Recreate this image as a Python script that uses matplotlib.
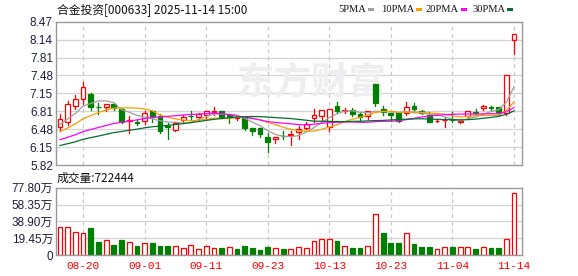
import matplotlib
matplotlib.use('Agg')
import matplotlib.pyplot as plt
import numpy as np
from matplotlib.patches import Rectangle

# ---------------- data ----------------
dates = ['08-15', '08-18', '08-19', '08-20', '08-21', '08-22', '08-25', '08-26', '08-27', '08-28',
         '08-29', '09-01', '09-02', '09-03', '09-04', '09-05', '09-08', '09-09', '09-10', '09-11',
         '09-12', '09-15', '09-16', '09-17', '09-18', '09-19', '09-22', '09-23', '09-24', '09-25',
         '09-26', '09-29', '09-30', '10-09', '10-10', '10-13', '10-14', '10-15', '10-16', '10-17',
         '10-20', '10-21', '10-22', '10-23', '10-24', '10-27', '10-28', '10-29', '10-30', '10-31',
         '11-03', '11-04', '11-05', '11-06', '11-07', '11-10', '11-11', '11-12', '11-13', '11-14']

opens = [6.53, 6.62, 6.91, 7.04, 7.13, 6.90, 6.90, 6.94, 6.85, 6.64,
         6.61, 6.63, 6.81, 6.73, 6.54, 6.47, 6.65, 6.725, 6.70, 6.75,
         6.80, 6.82, 6.75, 6.69, 6.68, 6.51, 6.51, 6.34, 6.30, 6.36,
         6.37, 6.43, 6.51, 6.68, 6.73, 6.52, 6.91, 6.81, 6.84, 6.76,
         6.73, 7.32, 6.85, 6.79, 6.79, 6.79, 6.91, 6.81, 6.75, 6.625,
         6.645, 6.655, 6.615, 6.73, 6.80, 6.87, 6.885, 6.90, 6.78, 8.13]
highs = [6.76, 7.01, 7.12, 7.36, 7.16, 6.97, 6.94, 6.96, 6.87, 6.73,
         6.65, 6.82, 6.81, 6.76, 6.59, 6.62, 6.75, 6.82, 6.79, 6.82,
         6.89, 6.82, 6.76, 6.73, 6.68, 6.51, 6.51, 6.41, 6.34, 6.44,
         6.44, 6.55, 6.61, 6.86, 6.84, 6.85, 6.99, 6.87, 6.87, 6.80,
         6.81, 7.32, 6.91, 6.79, 6.79, 6.99, 6.97, 6.84, 6.80, 6.67,
         6.70, 6.80, 6.67, 6.82, 6.86, 6.93, 6.92, 6.90, 7.49, 8.24]
lows = [6.45, 6.56, 6.85, 6.95, 6.84, 6.76, 6.81, 6.84, 6.59, 6.41,
        6.56, 6.58, 6.62, 6.41, 6.31, 6.44, 6.60, 6.65, 6.65, 6.65,
        6.75, 6.68, 6.60, 6.65, 6.47, 6.38, 6.33, 6.06, 6.22, 6.30,
        6.19, 6.31, 6.49, 6.62, 6.63, 6.44, 6.79, 6.78, 6.73, 6.65,
        6.67, 6.91, 6.75, 6.64, 6.62, 6.75, 6.81, 6.76, 6.62, 6.61,
        6.53, 6.61, 6.59, 6.67, 6.75, 6.84, 6.84, 6.75, 6.75, 7.87]
closes = [6.665, 6.94, 7.035, 7.26, 6.90, 6.89, 6.94, 6.87, 6.62, 6.655,
          6.60, 6.79, 6.70, 6.455, 6.52, 6.59, 6.71, 6.72, 6.76, 6.81,
          6.81, 6.71, 6.70, 6.70, 6.51, 6.44, 6.39, 6.24, 6.34, 6.355,
          6.39, 6.49, 6.57, 6.745, 6.84, 6.85, 6.82, 6.84, 6.76, 6.70,
          6.81, 6.96, 6.80, 6.745, 6.64, 6.89, 6.85, 6.79, 6.62, 6.635,
          6.655, 6.645, 6.625, 6.82, 6.79, 6.92, 6.88, 6.806, 7.49, 8.24]
# closes before the visible window (feed the moving averages)
prior_closes = [5.92, 5.95, 5.90, 5.98, 6.02, 5.96, 5.93, 6.00, 5.97, 6.01,
                6.05, 6.10, 6.08, 6.15, 6.12, 6.18, 6.14, 6.20, 6.16, 6.22,
                6.25, 6.28, 6.32, 6.30, 6.35, 6.45, 6.52, 6.60, 6.63]
volumes = [32.3, 32.3, 26.2, 25.0, 31.6, 14.6, 16.9, 11.6, 17.3, 14.6,
           10.4, 13.5, 13.9, 10.4, 10.4, 10.0, 7.7, 11.2, 6.9, 10.0,
           8.1, 8.1, 9.2, 6.9, 10.4, 8.1, 5.8, 9.2, 8.1, 6.9,
           6.9, 8.9, 7.7, 15.8, 18.1, 18.1, 16.2, 10.4, 8.1, 8.1,
           10.4, 47.0, 25.4, 13.9, 13.9, 25.0, 12.7, 9.2, 9.2, 6.5,
           8.9, 9.2, 8.9, 8.9, 6.9, 8.9, 8.1, 8.1, 18.1, 72.24]  # 万
vol_up = [1, 1, 1, 1, 0, 0, 1, 0, 0, 1,
          0, 1, 0, 0, 0, 1, 1, 1, 1, 1,
          1, 0, 1, 0, 0, 0, 0, 0, 1, 0,
          1, 1, 1, 1, 1, 1, 0, 1, 0, 0,
          1, 1, 0, 0, 0, 1, 0, 0, 0, 1,
          1, 0, 1, 1, 0, 1, 0, 0, 1, 1]
price_ticks = [5.82, 8.47]
price_tick_labels = ['5.82', '6.15', '6.48', '6.81', '7.15', '7.48', '7.81', '8.14', '8.47']
vol_max = 77.80
vol_tick_labels = ['0', '19.45万', '38.90万', '58.35万', '77.80万']
date_tick_idx = [3, 11, 19, 27, 35, 43, 51, 59]
title = '合金投资[000633] 2025-11-14 15:00'
vol_title = '成交量:722444'
ma_periods = [5, 10, 20, 30]
ma_names = ['5PMA', '10PMA', '20PMA', '30PMA']

# ---------------- style ----------------
RED = '#ff0000'
GREEN = '#008000'
ma_colors = ['#a0a0a0', '#f5a000', '#ff00ff', '#006f30']
GRID = '#d4d4d4'
SPINE = '#999999'
LABEL = '#1e1e3c'

W, H = 578, 276
fig = plt.figure(figsize=(W / 100, H / 100), dpi=100)
fig.patch.set_facecolor('white')

def fx(px):
    return px / W

def fy(py):
    return 1 - py / H

L, R = 55.7, 522.3
ax = fig.add_axes([fx(L), fy(165.0), fx(R - L), fy(21.7) - fy(165.0)])
axv = fig.add_axes([fx(L), fy(255.0), fx(R - L), fy(187.7) - fy(255.0)])

N = len(closes)
xs = np.arange(N)
xlim = (-0.56, N + 0.08)

# ---------------- price panel ----------------
pt = np.linspace(price_ticks[0], price_ticks[1], len(price_tick_labels))
ax.set_xlim(*xlim)
ax.set_ylim(pt[0], pt[-1])
for y in pt[1:-1]:
    ax.axhline(y, color=GRID, lw=0.9, zorder=0)
for i in date_tick_idx:
    ax.axvline(i, color='#c8c8c8', lw=0.9, ls=(0, (3, 3)), zorder=0)
    axv.axvline(i, color='#c8c8c8', lw=0.9, ls=(0, (3, 3)), zorder=0)

ax.text(0.55, 0.575, '东方财富', transform=ax.transAxes, ha='center', va='center',
        fontsize=27, color='#eeeef0', fontweight='bold', family=['Noto Sans CJK SC'], zorder=0.5)

bw = 0.62
for i in range(N):
    o, h, l, c = opens[i], highs[i], lows[i], closes[i]
    up = c >= o
    top, bot = max(o, c), min(o, c)
    if up:
        ax.add_patch(Rectangle((i - bw / 2, bot), bw, max(top - bot, 0.004), facecolor='white',
                               edgecolor=RED, lw=0.9, zorder=2))
        ax.plot([i, i], [top, h], color=RED, lw=0.9, zorder=2)
        ax.plot([i, i], [l, bot], color=RED, lw=0.9, zorder=2)
    else:
        ax.plot([i, i], [l, h], color=GREEN, lw=0.9, zorder=2)
        ax.add_patch(Rectangle((i - bw / 2, bot), bw, max(top - bot, 0.004), facecolor=GREEN,
                               edgecolor=GREEN, lw=0.9, zorder=2))

all_c = np.array(prior_closes + closes)
npz = len(prior_closes)
for p, col in zip(ma_periods, ma_colors):
    ma = [all_c[npz + i - p + 1: npz + i + 1].mean() for i in range(N)]
    ax.plot(xs, ma, color=col, lw=0.9, zorder=3)

ax.set_yticks(pt)
ax.set_yticklabels(price_tick_labels)
ax.set_xticks([])
for s in ax.spines.values():
    s.set_color(SPINE)
    s.set_linewidth(1.0)
ax.tick_params(axis='y', length=0, pad=2, labelsize=8.5, labelcolor=LABEL)
for t in ax.get_yticklabels():
    t.set_family('Liberation Sans')

# ---------------- volume panel ----------------
axv.set_xlim(*xlim)
axv.set_ylim(0, vol_max)
vt = np.linspace(0, vol_max, len(vol_tick_labels))
for y in vt[1:-1]:
    axv.axhline(y, color=GRID, lw=0.9, zorder=0)
for i in range(N):
    if vol_up[i]:
        axv.add_patch(Rectangle((i - bw / 2, 0), bw, volumes[i], facecolor='white',
                                edgecolor=RED, lw=0.9, zorder=2))
    else:
        axv.add_patch(Rectangle((i - bw / 2, 0), bw, volumes[i], facecolor=GREEN,
                                edgecolor=GREEN, lw=0.9, zorder=2))
axv.set_yticks(vt)
axv.set_yticklabels(vol_tick_labels)
axv.tick_params(axis='y', length=0, pad=2, labelsize=8.5, labelcolor=LABEL)
for t in axv.get_yticklabels():
    t.set_family(['Liberation Sans', 'Noto Sans CJK SC'])
axv.set_xticks(date_tick_idx)
axv.set_xticklabels([dates[i] for i in date_tick_idx])
axv.tick_params(axis='x', length=0, pad=4, labelsize=8, labelcolor=RED)
for t in axv.get_xticklabels():
    t.set_family('Liberation Mono')
for s in axv.spines.values():
    s.set_color(SPINE)
    s.set_linewidth(1.0)

# ---------------- texts ----------------
fig.text(fx(57), fy(9.5), title, ha='left', va='center', fontsize=8.5,
         family=['Noto Sans CJK SC', 'DejaVu Sans'], color='#111111')
fig.text(fx(57), fy(178), vol_title, ha='left', va='center', fontsize=8.5,
         family=['Noto Sans CJK SC', 'DejaVu Sans'], color='#111111')

leg_x = [338, 381, 426, 472]
for name, col, x0 in zip(ma_names, ma_colors, leg_x):
    fig.text(fx(x0), fy(9.5), name, ha='left', va='center', fontsize=7.6,
             family='Liberation Serif', color='#111111')
fig.canvas.draw()
rend = fig.canvas.get_renderer()
for t, col in zip(fig.texts[2:], ma_colors):
    bb = t.get_window_extent(renderer=rend)
    x1 = bb.x1 + 2
    fig.patches.append(Rectangle((x1 / W, fy(11)), 6 / W, 3 / H, transform=fig.transFigure,
                                 facecolor=col, edgecolor='none', figure=fig))

fig.savefig('out.png', dpi=100, facecolor='white')
